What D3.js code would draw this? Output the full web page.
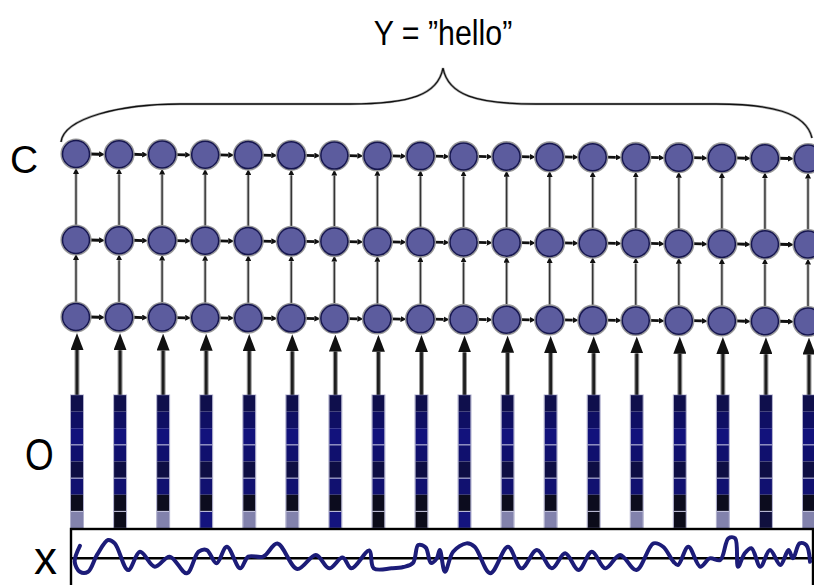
<!DOCTYPE html>
<html>
<head>
<meta charset="utf-8">
<script src="https://cdn.jsdelivr.net/npm/d3@7"></script>
<style>
  body { margin: 0; background: #fff; }
  svg { display: block; font-family: "Liberation Sans", Arial, sans-serif; }
</style>
</head>
<body>
<svg id="chart" width="814" height="585"></svg>
<script>
// frames of the recognition network, one column per frame
const frames = [1, 2, 3, 4, 5, 6, 7, 8, 9, 10, 11, 12, 13, 14, 15, 16, 17, 18];
// hidden layers, top to bottom
const layers = ['top', 'middle', 'bottom'];

// observation vector bins (top 7 are the same colour in every frame)
const binColors = ['#0f0f4c', '#0f0f64', '#12127c', '#10106e', '#0e0e44', '#111170', '#0c0c1e'];
// last bin of each frame: L = light, K = black, N = navy, D = dark navy
const lastBin = ['L', 'K', 'L', 'N', 'L', 'L', 'N', 'K', 'K', 'N', 'L', 'L', 'K', 'L', 'K', 'L', 'D', 'L'];
const lastBinColor = { L: '#8282ac', K: '#0c0c1a', N: '#14147e', D: '#10103e' };

// waveform x: time (ms) and amplitude
const waveT = [12, 5, 12, 23, 35, 50, 59, 77, 93, 113, 133, 156, 172, 183, 196, 210, 228, 239, 259, 278,
  305, 330, 348, 366, 378, 402, 408, 432, 448, 461, 468, 478, 485, 493, 497, 504, 515, 533, 544, 565,
  589, 607, 628, 648, 666, 684, 702, 720, 740, 762, 785, 798, 812, 818, 832, 848, 861, 875, 886, 895,
  899, 908, 917, 929, 942, 956, 967, 973, 982, 991, 996];
const waveA = [0.72, -0.22, -0.81, -0.81, 0.18, 1.06, 0.86, -0.71, 0.37, -0.51, 0.08, -0.9, 0.37, 0.47, -0.31, 0.66, -0.61, 0.08, 0.08, 0.85,
  -0.65, 0.18, -0.61, 0.03, -0.61, 0.44, -0.61, -0.61, -0.53, -0.29, 0.76, 0.62, -0.29, -0.02, 0.47, -0.81, 0.37, 0.86, 0.66, -0.9,
  0.66, -0.61, 0.47, -0.61, 0.28, -0.71, 0.37, -0.61, 0.18, -0.71, 0.86, 0.66, -0.22, -0.41, 0.66, -0.51, -0.02, -0.12, 1.16, 1.16,
  -0.51, 0.28, 0.57, -0.51, 0.47, -0.41, 0.47, -0.02, 0.86, 0.76, -0.22];

const svg = d3.select('#chart');
const R = 14; // node radius

// scales
const x = d3.scalePoint().domain(frames).range([76, 808]);
const rowY = d3.scaleOrdinal().domain(layers).range([154, 240, 317]);
const tilt = d3.scaleLinear().domain([1, 18]).range([0, 4.5]);
const nodeY = (layer, f) => rowY(layer) + tilt(f);
const bin = d3.scaleBand().domain(d3.range(8)).range([395, 528]);
const tx = d3.scaleLinear().domain([0, 1000]).range([71, 813]);
const ay = d3.scaleLinear().domain([-1, 1]).range([575, 541]);

// arrow markers
const defs = svg.append('defs');
function marker(id, len, half, color) {
  defs.append('marker')
    .attr('id', id)
    .attr('markerUnits', 'userSpaceOnUse')
    .attr('viewBox', `0 ${-half} ${len} ${half * 2}`)
    .attr('refX', 0).attr('refY', 0)
    .attr('markerWidth', len).attr('markerHeight', half * 2)
    .attr('orient', 'auto')
    .append('path')
    .attr('d', `M0,${-half}L${len},0L0,${half}Z`)
    .attr('fill', color);
}
marker('big', 17, 6.5, '#111');
marker('small', 6, 3, '#111');

// brace over the whole utterance
const brace = d3.path();
brace.moveTo(61, 142);
brace.bezierCurveTo(64, 118, 120, 104, 180, 104);
brace.lineTo(350, 104);
brace.bezierCurveTo(410, 104, 438, 95, 443, 68);
brace.bezierCurveTo(448, 95, 476, 104, 536, 104);
brace.lineTo(716, 104);
brace.bezierCurveTo(770, 104, 806, 112, 812, 138);
svg.append('path').attr('d', brace.toString())
  .attr('fill', 'none').attr('stroke', '#aaa').attr('stroke-width', 2.6);
svg.append('path').attr('d', brace.toString())
  .attr('fill', 'none').attr('stroke', '#111').attr('stroke-width', 1.3);

svg.append('text')
  .attr('transform', 'translate(443,45) scale(0.92,1.08)')
  .attr('text-anchor', 'middle')
  .attr('font-size', 33)
  .text('Y = \u201dhello\u201d');

// side labels
svg.append('text').attr('x', 10).attr('y', 173).attr('font-size', 39).text('C');
svg.append('text').attr('transform', 'translate(25,470) scale(0.82,1)').attr('font-size', 45).text('O');
svg.append('text').attr('x', 34).attr('y', 574).attr('font-size', 46).text('x');

// horizontal arrows inside each layer
const pairs = frames.slice(0, -1).map((f, i) => [f, frames[i + 1]]);
layers.forEach((layer) => {
  svg.append('g').selectAll('line')
    .data(pairs)
    .join('line')
    .attr('x1', (d) => x(d[0]) + R)
    .attr('y1', (d) => nodeY(layer, d[0]))
    .attr('x2', (d) => x(d[1]) - R - 6)
    .attr('y2', (d) => nodeY(layer, d[1]))
    .attr('stroke', '#111')
    .attr('stroke-width', 2.8)
    .attr('marker-end', 'url(#small)');
});

// vertical arrows bottom -> middle -> top
[['bottom', 'middle'], ['middle', 'top']].forEach(([lo, hi]) => {
  const g = svg.append('g');
  g.selectAll('line.halo')
    .data(frames)
    .join('line')
    .attr('class', 'halo')
    .attr('x1', (f) => x(f)).attr('x2', (f) => x(f))
    .attr('y1', (f) => nodeY(lo, f) - R)
    .attr('y2', (f) => nodeY(hi, f) + R + 6)
    .attr('stroke', '#bbb').attr('stroke-width', 3.2);
  g.selectAll('line.core')
    .data(frames)
    .join('line')
    .attr('class', 'core')
    .attr('x1', (f) => x(f)).attr('x2', (f) => x(f))
    .attr('y1', (f) => nodeY(lo, f) - R)
    .attr('y2', (f) => nodeY(hi, f) + R + 6)
    .attr('stroke', '#333').attr('stroke-width', 1.4)
    .attr('marker-end', 'url(#small)');
});

// nodes
layers.forEach((layer) => {
  const g = svg.append('g');
  g.selectAll('circle.halo')
    .data(frames)
    .join('circle')
    .attr('class', 'halo')
    .attr('cx', (f) => x(f)).attr('cy', (f) => nodeY(layer, f))
    .attr('r', R + 0.8)
    .attr('fill', 'none').attr('stroke', '#999').attr('stroke-width', 1.6);
  g.selectAll('circle.node')
    .data(frames)
    .join('circle')
    .attr('class', 'node')
    .attr('cx', (f) => x(f)).attr('cy', (f) => nodeY(layer, f))
    .attr('r', R - 0.5)
    .attr('fill', '#5c5c9e')
    .attr('stroke', '#16164e').attr('stroke-width', 1.5);
});

// arrows from observation vectors up to the bottom layer
const shafts = svg.append('g');
shafts.selectAll('line.halo')
  .data(frames)
  .join('line')
  .attr('class', 'halo')
  .attr('x1', (f) => x(f) + 1).attr('x2', (f) => x(f) + 1)
  .attr('y1', 395)
  .attr('y2', (f) => nodeY('bottom', f) + R + 19)
  .attr('stroke', '#999').attr('stroke-width', 5);
shafts.selectAll('line.core')
  .data(frames)
  .join('line')
  .attr('class', 'core')
  .attr('x1', (f) => x(f) + 1).attr('x2', (f) => x(f) + 1)
  .attr('y1', 395)
  .attr('y2', (f) => nodeY('bottom', f) + R + 19)
  .attr('stroke', '#1e1e1e').attr('stroke-width', 2.8)
  .attr('marker-end', 'url(#big)');

// observation vectors O
const cols = svg.append('g').selectAll('g')
  .data(frames)
  .join('g')
  .attr('transform', (f) => `translate(${x(f) + 1 - 6},0)`);

cols.selectAll('rect')
  .data((f, i) => binColors.concat(lastBinColor[lastBin[i]]))
  .join('rect')
  .attr('x', 0).attr('width', 12)
  .attr('y', (c, j) => bin(j))
  .attr('height', bin.bandwidth())
  .attr('fill', (c) => c);

cols.append('rect')
  .attr('x', -0.5).attr('width', 13)
  .attr('y', 395).attr('height', 133)
  .attr('fill', 'none').attr('stroke', '#7a7aaa').attr('stroke-width', 1).attr('opacity', 0.6);

cols.selectAll('line')
  .data([3, 5, 7])
  .join('line')
  .attr('x1', 0).attr('x2', 12)
  .attr('y1', (j) => bin(j)).attr('y2', (j) => bin(j))
  .attr('stroke', '#c8c8e2').attr('stroke-width', 1);

// waveform box
svg.append('rect')
  .attr('x', 71).attr('y', 529).attr('width', 742).attr('height', 80)
  .attr('fill', 'none').attr('stroke', '#000').attr('stroke-width', 2.4);
svg.append('line')
  .attr('x1', 71).attr('x2', 813)
  .attr('y1', ay(0) + 0.3).attr('y2', ay(0) + 0.3)
  .attr('stroke', '#000').attr('stroke-width', 2.6);

const wave = d3.line()
  .x((d) => tx(d[0]))
  .y((d) => ay(d[1]))
  .curve(d3.curveCatmullRom.alpha(0.5));

svg.append('path')
  .datum(d3.zip(waveT, waveA))
  .attr('d', wave)
  .attr('fill', 'none')
  .attr('stroke', '#1c1c78')
  .attr('stroke-width', 4)
  .attr('stroke-linejoin', 'round')
  .attr('stroke-linecap', 'round');
</script>
</body>
</html>
